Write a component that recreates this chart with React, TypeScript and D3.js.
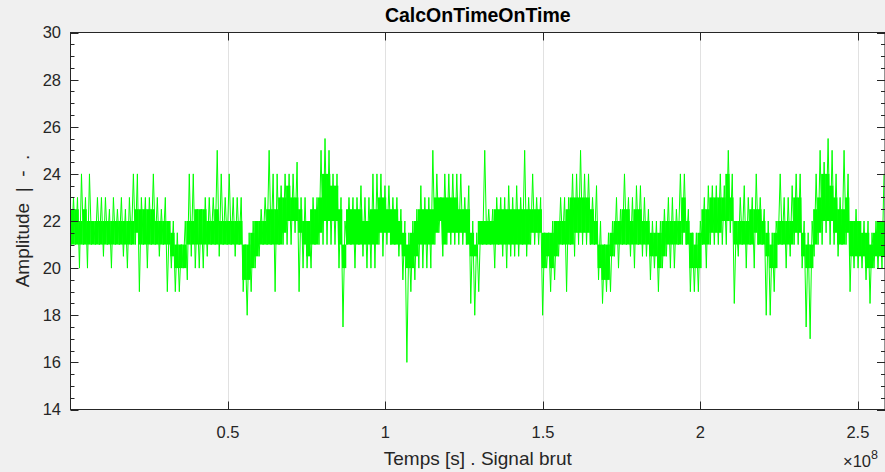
import React from "react";
import * as d3 from "d3";

// Per-bin envelope of the signal (204 bins across the x range)
// lo/hi: extreme values reached inside each bin; coreLo/coreHi: the dense band
const binLo = [
  21,21,20,21,20,21,21,21,20.5,21,20,21,21,20.5,20,21,21,19,21,20,21,21,20.5,21,19,20,19,19,20,19.5,
  20.5,20,20,20,20.5,21,21,20.5,21,21,21,20.5,21,19,18,19,20,20.5,21,21,21,19,21,21,21,21,21.5,19,20,20,
  20,21,21,21,21,21,21,20,17.5,21,21,20,21,20.5,20,20,20,21,20.5,21,21,21,20.5,19.5,16,19,19.5,20,20,20,
  20,21,21.5,20.5,21,21,21,21,21,21,18.5,18,19,21,21,21,20,21,20.5,20,20.5,20.5,20.5,21,20.5,21,21,21,18,20,
  19,19.5,20.5,21,19,21,20.5,21,21,21,21,21,19.5,18.5,19,19,20.5,20,21,21,20.5,20,21,20.5,20.5,19.5,20,19,20,20.5,
  20,20,21,21,21,19,19,19,21,20,21,21,21,21,21,21.5,18.5,20.5,21,20,21,20,21,21,18,18,19,21,21,20,
  20.5,21,21,20,17.5,17,20.5,21,21,21.5,21,21,20.5,21,21,19,20,20,20,19.5,18.5,20,20,20
];
const binCoreLo = [
  21,21,21,21,21,21,21,21,21,21,21,21,21,21,21,21,21.5,21,21,21,21,21,21,21,21,20.5,20,20,20,21,
  21,21,21,21,21,21,21,21,21,21,21,21,21,19.5,19.5,20,20.5,21,21,21,21,21,21,21.5,22,22,22,21.5,21,20.5,
  21,21,21.5,22,22,22,22,21,20,21,21,21,21,21,21,21,21,21.5,21.5,21.5,21,21,21,20.5,20,20,20.5,21,21,21,
  21,21.5,22,21,21.5,21.5,21.5,21.5,21.5,21,20.5,20.5,21,21,21,21,21,21,21,21,21,21,21,21,21,21.5,21.5,21.5,20,20.5,
  20,20.5,21,21,21,21,21.5,21.5,21.5,21.5,21,21,20,19.5,19.5,20.5,21,21,21,21,21,21,21,21,21,20.5,20.5,20,20.5,21,
  21,21,21,21.5,21,20,20,20,21,21,21.5,21.5,21.5,22,22,22,21,21,21,21,21,21.5,21,21,20.5,20,20,21,21,21,
  21,21.5,21.5,20.5,20,20,21,21.5,22,22,22,21.5,21,21,21.5,20.5,20.5,20.5,20.5,20,20,20.5,20.5,20.5
];
const binCoreHi = [
  22.5,22.5,22,22.5,22,22,22,22,22,22,22,22,22,22,22,22,22.5,22.5,22.5,22.5,22.5,22,22,22,22,21.5,21,21,21,22,
  22,22.5,22.5,22.5,22,22,22.5,22,22,22,22,22,22,21,21,21.5,22,22,22,22.5,22.5,22.5,23,23,23.5,23,23,22.5,22,22,
  22.5,22.5,23,24,24,23.5,23.5,22.5,21,22.5,22.5,22.5,22.5,22,22,22.5,22.5,23,23,22.5,22.5,22.5,22,21.5,21,21.5,22,22.5,22.5,22.5,
  22.5,23,23,23,23,23,23,22.5,22.5,22.5,21.5,21,22,22,22,22,22.5,22.5,22.5,22.5,22.5,22.5,22.5,22.5,22.5,22.5,22.5,22.5,21.5,21.5,
  21.5,22,22,22,22.5,23,23,23,23,23,22.5,22,21,21,21,21.5,22,22,22.5,22.5,22,22.5,22.5,22,22,21.5,21.5,21.5,22,22,
  22,22,22,23,22,21.5,21,21.5,22.5,22.5,23,23,23,23,24,23,22,22,22,22,22.5,22.5,22.5,22,21.5,21,21.5,22,22,22,
  22,23,23,21.5,21,21,22.5,23,24,24,23.5,23,22.5,22.5,23,22,22,22,21.5,21.5,21,21.5,22,22
];
const binHi = [
  23,23,24,23,24,22,23,23,23,22.5,23,22.5,23,22.5,23,24,24,23,23,23,24,23,22.5,23,22,22,21.5,21,22,24,
  24,22.5,22.5,23,23,23,25,24,23,24,23,23,23,21,21.5,22,22,22.5,23,25,24,24,23.5,24,24,24,24.5,23,23,22,
  23,23,25,25.5,25,24,24,23,22,23,23,23,23.5,23,23,24,24,24,23.5,23.5,23,23,22.5,22,21.5,22,22.5,23.5,23,23,
  25,24,23,24,24,24,24,24,23,23.5,22,21.5,22,25,22.5,22.5,23,23,23,23.5,23,23.5,23,25,23,24,23,23,21.5,21.5,
  22,22,23,23,23,24,24,25,24,24,23,23.5,22,21,21.5,22,23,22.5,24,23,23,23.5,23.5,23,22.5,22,22,22,22.5,23,
  23,22.5,24,24,22.5,21.5,21.5,22,23,23.5,23.5,23.5,24,23.5,25,24,22,23,23.5,23,23,24,23,22.5,22,21.5,22,24,23,23,
  23.5,24,24,22,21.5,22,24,25,24.5,25.5,25,24,23,25,24,22,22.5,22,22,22,21.5,22,22,24
];

const xTicks = [0.5e8, 1e8, 1.5e8, 2e8, 2.5e8];
const xTickLabels = ["0.5", "1", "1.5", "2", "2.5"];
const yTicks = [14, 16, 18, 20, 22, 24, 26, 28, 30];
const xMax = 2.586e8;

const W = 885, H = 472;
const L = 70.5, R = 885, T = 32.5, B = 409.5;
const AX = "#262626";
const FONT = "'Liberation Sans', Arial, Helvetica, sans-serif";

export default function App() {
  const n = binLo.length;
  const dt = xMax / n;
  const x = d3.scaleLinear().domain([0, xMax]).range([L, R]);
  const y = d3.scaleLinear().domain([14, 30]).range([B, T]);

  const minor = d3.range(14, 30.001, 0.5).filter((v) => Math.abs(v % 2) > 1e-6);

  // continuous signal trace through each bin's extremes
  const pts: [number, number][] = [];
  for (let i = 0; i < n; i++) {
    pts.push([i * dt + dt * 0.25, binLo[i]]);
    pts.push([i * dt + dt * 0.75, binHi[i]]);
  }
  const trace = d3
    .line<[number, number]>()
    .x((d) => x(d[0]))
    .y((d) => y(d[1]))(pts) as string;

  return (
    <svg width={W} height={H} style={{ position: "absolute", left: 0, top: 0, background: "#f0f0f0" }} fontFamily={FONT}>
      <defs>
        <clipPath id="plotclip">
          <rect x={L} y={T} width={R - L} height={B - T} />
        </clipPath>
      </defs>
      <rect x={0} y={0} width={W} height={H} fill="#f0f0f0" />
      <rect x={L} y={T} width={R - L} height={B - T} fill="#ffffff" />
      {xTicks.map((t) => (
        <line key={"g" + t} x1={Math.round(x(t)) + 0.5} x2={Math.round(x(t)) + 0.5} y1={T} y2={B} stroke="#e1e1e1" strokeWidth={1} />
      ))}
      <g clipPath="url(#plotclip)">
        {binLo.map((_, i) => (
          <rect
            key={"c" + i}
            x={x(i * dt)}
            width={x((i + 1) * dt) - x(i * dt) + 0.3}
            y={y(binCoreHi[i])}
            height={y(binCoreLo[i]) - y(binCoreHi[i])}
            fill="#00ff00"
          />
        ))}
        <path d={trace} stroke="#00ff00" strokeWidth={1} fill="none" />
      </g>
      {/* box */}
      <rect x={L} y={T} width={R - L} height={B - T} fill="none" stroke={AX} strokeWidth={1} />
      {/* y ticks */}
      {yTicks.map((v) => (
        <g key={"y" + v}>
          <line x1={L} x2={L + 8} y1={Math.round(y(v)) + 0.5} y2={Math.round(y(v)) + 0.5} stroke={AX} />
          <line x1={R - 8} x2={R} y1={Math.round(y(v)) + 0.5} y2={Math.round(y(v)) + 0.5} stroke={AX} />
          <text x={61} y={y(v)} dy="0.36em" textAnchor="end" fontSize={16.5} fill={AX}>
            {v}
          </text>
        </g>
      ))}
      {minor.map((v) => (
        <g key={"m" + v}>
          <line x1={L} x2={L + 4} y1={Math.round(y(v)) + 0.5} y2={Math.round(y(v)) + 0.5} stroke={AX} />
          <line x1={R - 4} x2={R} y1={Math.round(y(v)) + 0.5} y2={Math.round(y(v)) + 0.5} stroke={AX} />
        </g>
      ))}
      {/* x ticks */}
      {xTicks.map((t, i) => (
        <g key={"x" + t}>
          <line x1={Math.round(x(t)) + 0.5} x2={Math.round(x(t)) + 0.5} y1={B} y2={B - 8} stroke={AX} />
          <line x1={Math.round(x(t)) + 0.5} x2={Math.round(x(t)) + 0.5} y1={T} y2={T + 8} stroke={AX} />
          <text x={x(t)} y={438} textAnchor="middle" fontSize={16.5} fill={AX}>
            {xTickLabels[i]}
          </text>
        </g>
      ))}
      <text x={843} y={467} fontSize={16.5} fill={AX}>
        ×10<tspan dy={-8} fontSize={12.5}>8</tspan>
      </text>
      <text x={(L + R) / 2} y={22} textAnchor="middle" fontSize={19.5} fontWeight="bold" fill="#000">
        CalcOnTimeOnTime
      </text>
      <text x={(L + R) / 2} y={465} textAnchor="middle" fontSize={19} fill={AX} style={{ whiteSpace: "pre" }}>
        Temps [s] . Signal brut
      </text>
      <text
        transform={`translate(29,${(T + B) / 2}) rotate(-90)`}
        textAnchor="middle"
        fontSize={19}
        fill={AX}
        style={{ whiteSpace: "pre" }}
      >
        {"Amplitude  |  -  ."}
      </text>
    </svg>
  );
}
